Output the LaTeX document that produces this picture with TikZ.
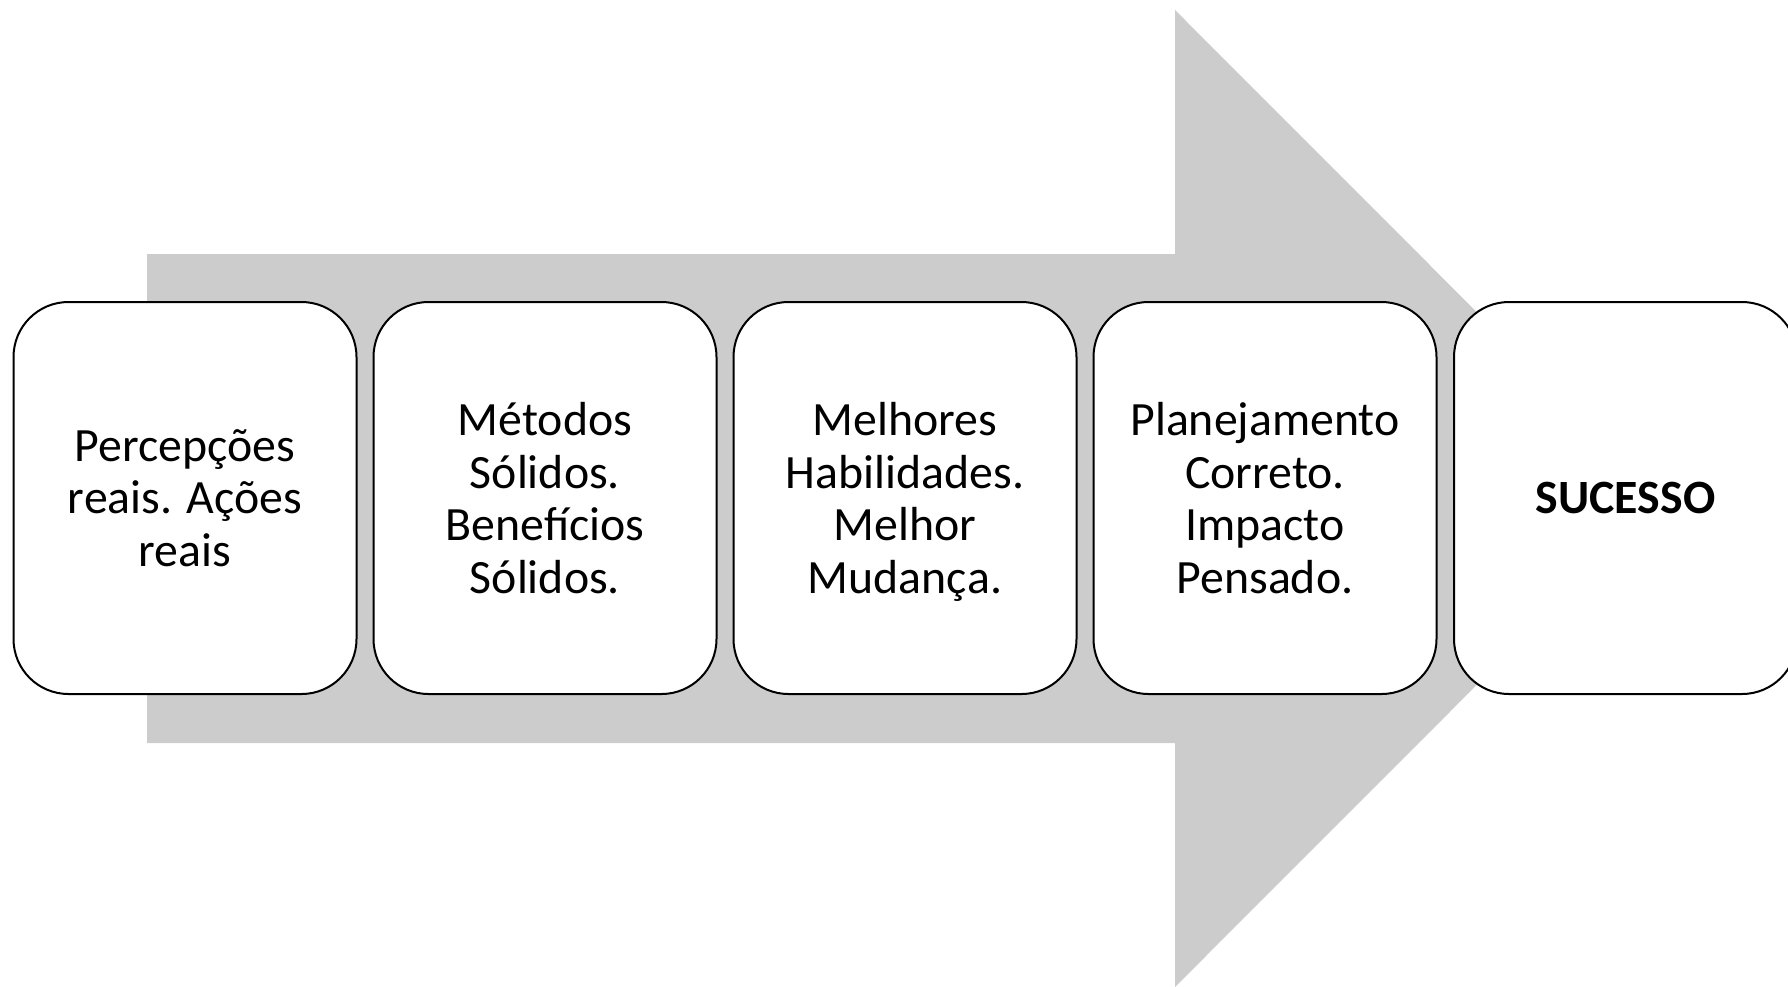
\documentclass[tikz,border=0pt]{standalone}
\usepackage{fontspec}
\setmainfont{Carlito}
\definecolor{arrowgray}{RGB}{204,204,204}
\tikzset{
  stepbox/.style={draw=black, line width=2pt, fill=white, rounded corners=55pt,
    minimum width=343pt, minimum height=392pt, align=center,
    font=\fontsize{47.8}{52.5}\selectfont, inner sep=0pt},
}
\begin{document}
\begin{tikzpicture}[x=1pt,y=-1pt]
\useasboundingbox (0,0) rectangle (1788,986);
\clip (0,0) rectangle (1788,986);
\fill[arrowgray] (147,254) -- (1175,254) -- (1175,10) -- (1663,498.5)
  -- (1175,987) -- (1175,743) -- (147,743) -- cycle;
\node[stepbox] (b1) at (185,498) {Percepções\\reais. Ações\\reais};
\node[stepbox] (b2) at (545,498) {Métodos\\Sólidos.\\Benefícios\\Sólidos.};
\node[stepbox] (b3) at (905,498) {Melhores\\Habilidades.\\Melhor\\Mudan\smash{ç}a.};
\node[stepbox] (b4) at (1265,498) {Planejamento\\Correto.\\Impacto\\Pensado.};
\node[stepbox] (b5) at (1625.5,498) {\textbf{SUCESSO}};
\end{tikzpicture}
\end{document}
